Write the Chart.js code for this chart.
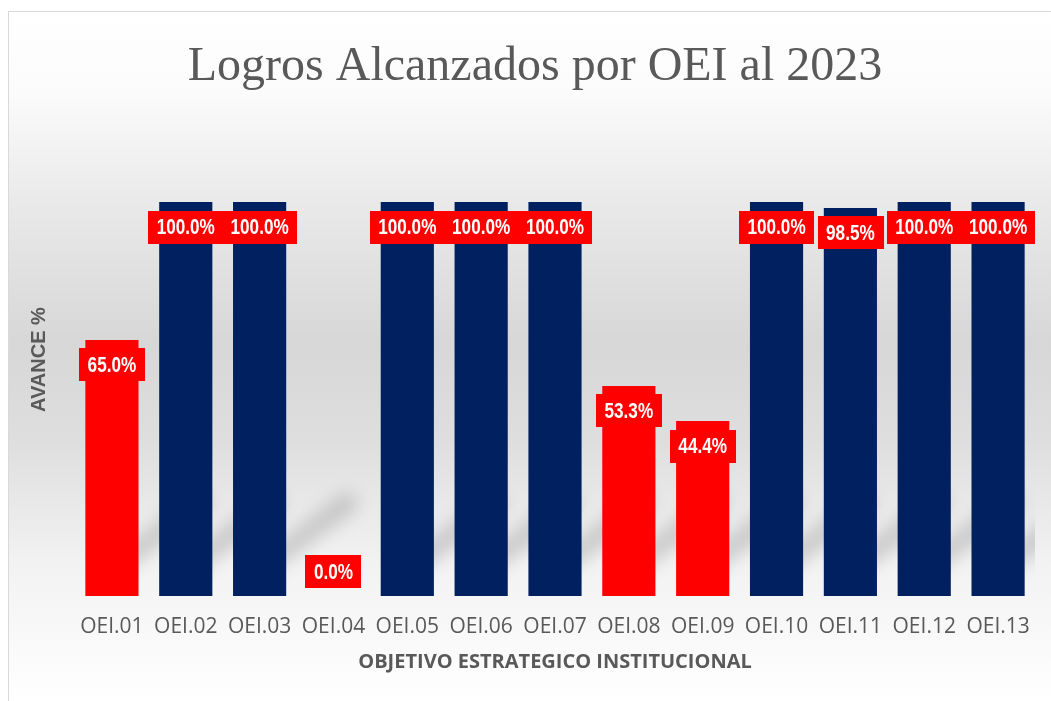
<!DOCTYPE html>
<html>
<head>
<meta charset="utf-8">
<script src="https://cdn.jsdelivr.net/npm/chart.js@4/dist/chart.umd.min.js"></script>
<style>
  html, body { margin: 0; padding: 0; background: #ffffff; }
  #wrap { position: relative; width: 1051px; height: 701px; }
</style>
</head>
<body>
<div id="wrap"><canvas id="c" width="1051" height="701"></canvas></div>
<script>
// ---- data ----
const categories = ['OEI.01','OEI.02','OEI.03','OEI.04','OEI.05','OEI.06','OEI.07','OEI.08','OEI.09','OEI.10','OEI.11','OEI.12','OEI.13'];
const avance = [65.0, 100.0, 100.0, 0.0, 100.0, 100.0, 100.0, 53.3, 44.4, 100.0, 98.5, 100.0, 100.0];
const chartTitle = 'Logros Alcanzados por OEI al 2023';
const xTitle = 'OBJETIVO ESTRATEGICO INSTITUCIONAL';
const yTitle = 'AVANCE %';

const NAVY = '#002060';
const RED = '#FF0000';
const GREY_TEXT = '#595959';

const barColors = avance.map(v => v < 90 ? RED : NAVY);

// background card with vertical gradient
const bgPlugin = {
  id: 'bg',
  beforeDraw(chart) {
    const ctx = chart.ctx;
    ctx.save();
    ctx.fillStyle = '#ffffff';
    ctx.fillRect(0, 0, chart.width, chart.height);
    const g = ctx.createLinearGradient(0, 12, 0, 701);
    g.addColorStop(0.00, '#ffffff');
    g.addColorStop(0.12, '#fbfbfb');
    g.addColorStop(0.28, '#e9e9e9');
    g.addColorStop(0.48, '#d7d7d7');
    g.addColorStop(0.62, '#dedede');
    g.addColorStop(0.80, '#f2f2f2');
    g.addColorStop(1.00, '#ffffff');
    ctx.fillStyle = g;
    ctx.fillRect(8.5, 11.5, 1100, 800);
    ctx.strokeStyle = '#d9d9d9';
    ctx.lineWidth = 1;
    ctx.strokeRect(8.5, 11.5, 1100, 800);
    ctx.restore();
  }
};

// chart title, centred over the card
const titlePlugin = {
  id: 'cardTitle',
  afterDraw(chart) {
    const ctx = chart.ctx;
    ctx.save();
    ctx.font = '48px "Liberation Serif", "Times New Roman", serif';
    ctx.fillStyle = GREY_TEXT;
    ctx.textAlign = 'center';
    ctx.textBaseline = 'alphabetic';
    ctx.fillText(chartTitle, 535, 80);
    ctx.restore();
  }
};

// soft perspective shadows behind bars
const shadowPlugin = {
  id: 'barShadow',
  beforeDatasetsDraw(chart) {
    const ctx = chart.ctx;
    const area = chart.chartArea;
    const meta = chart.getDatasetMeta(0);
    ctx.save();
    ctx.beginPath();
    ctx.rect(area.left, area.top, area.right - area.left, area.bottom - area.top + 4);
    ctx.clip();
    ctx.filter = 'blur(8px)';
    meta.data.forEach((el, i) => {
      if (avance[i] <= 0) return;
      const half = el.width / 2;
      const x1 = el.x + half;
      const base = el.base;
      ctx.strokeStyle = 'rgba(0,0,0,0.14)';
      ctx.lineWidth = 22;
      ctx.lineCap = 'round';
      ctx.beginPath();
      ctx.moveTo(x1 - 20, base - 32);
      ctx.lineTo(x1 + 60, base - 92);
      ctx.stroke();
    });
    ctx.restore();
  }
};

// data labels in red boxes
const labelPlugin = {
  id: 'boxLabels',
  afterDatasetsDraw(chart) {
    const ctx = chart.ctx;
    const meta = chart.getDatasetMeta(0);
    ctx.save();
    ctx.font = 'bold 22px "Liberation Sans", Arial, sans-serif';
    const sx = 0.78;
    meta.data.forEach((el, i) => {
      const v = avance[i];
      const txt = v.toFixed(1) + '%';
      const tw = ctx.measureText(txt).width * sx;
      const w = tw + 17;
      const h = 33;
      const cy = v > 0 ? el.y + 25 : el.base - 24.5;
      const cx = el.x;
      ctx.fillStyle = RED;
      ctx.fillRect(Math.round(cx - w / 2), Math.round(cy - h / 2), Math.round(w), h);
      ctx.save();
      ctx.translate(cx, cy);
      ctx.scale(sx, 1);
      ctx.fillStyle = '#ffffff';
      ctx.textAlign = 'center';
      ctx.textBaseline = 'middle';
      ctx.fillText(txt, 0, 1);
      ctx.restore();
    });
    ctx.restore();
  }
};

new Chart(document.getElementById('c'), {
  type: 'bar',
  data: {
    labels: categories,
    datasets: [{
      data: avance,
      backgroundColor: barColors,
      borderWidth: 0,
      barPercentage: 0.72,
      categoryPercentage: 1.0
    }]
  },
  options: {
    responsive: false,
    animation: false,
    devicePixelRatio: 1,
    layout: { padding: { top: 123.2, left: 8, right: 16, bottom: 20 } },
    plugins: {
      legend: { display: false },
      tooltip: { enabled: false },
      title: { display: false }
    },
    scales: {
      x: {
        afterFit(scale) { scale.height = 85; },
        grid: { display: false, drawTicks: false },
        border: { display: false },
        ticks: {
          color: GREY_TEXT,
          font: { family: '"Open Sans", sans-serif', size: 21, lineHeight: 1.2 },
          padding: 18,
          maxRotation: 0,
          autoSkip: false
        },
        title: {
          display: true,
          text: xTitle,
          color: GREY_TEXT,
          font: { family: '"Open Sans", sans-serif', size: 20, weight: 'bold', lineHeight: 1.2 },
          padding: { top: 4, bottom: 7 }
        }
      },
      y: {
        min: 0,
        max: 120,
        afterFit(scale) { scale.width = 67; },
        grid: { display: false, drawTicks: false },
        border: { display: false },
        ticks: { display: false },
        title: {
          display: true,
          text: yTitle,
          color: GREY_TEXT,
          font: { family: '"Liberation Sans", Arial, sans-serif', size: 20, weight: 'bold', lineHeight: 1.2 },
          padding: { top: 19, bottom: 4 }
        }
      }
    }
  },
  plugins: [bgPlugin, shadowPlugin, labelPlugin, titlePlugin]
});
</script>
</body>
</html>
